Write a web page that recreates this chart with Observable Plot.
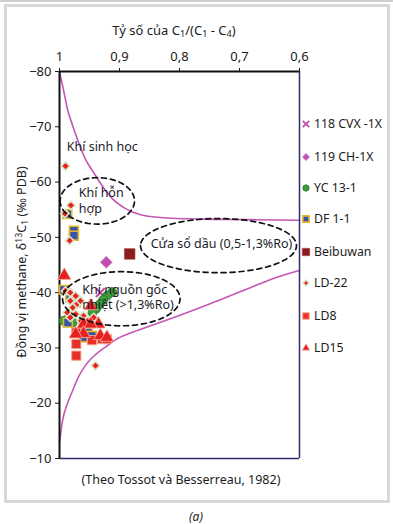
<!DOCTYPE html>
<html>
<head>
<meta charset="utf-8">
<script src="https://cdn.jsdelivr.net/npm/d3@7"></script>
<script src="https://cdn.jsdelivr.net/npm/@observablehq/plot@0.6"></script>
<style>
  html, body { margin: 0; padding: 0; background: #fff; }
  body { width: 393px; height: 524px; position: relative; overflow: hidden; font-family: "Noto Sans", sans-serif; color: #1c1c1c; }
  .abs { position: absolute; white-space: nowrap; }
  #frame { position: absolute; left: 4px; top: 4px; width: 380px; height: 493px; border: 3px solid #d9d9d9; }
  #topline { position: absolute; left: 0; top: 0; width: 393px; height: 2px; background: #cfcfcf; }
  #chart { position: absolute; left: 0; top: 0; }
  .leg { position: absolute; left: 300px; font-size: 12.3px; height: 14px; line-height: 14px; display: flex; align-items: center; }
  .leg svg { margin-right: 2px; }
  sub { font-size: 0.7em; vertical-align: -0.25em; line-height: 0; }
  sup { font-size: 0.7em; vertical-align: 0.45em; line-height: 0; }
</style>
</head>
<body>
<div id="topline"></div>
<div id="frame"></div>
<div id="chart"></div>
<div class="abs" style="left:174px; top:21px; transform:translateX(-50%); font-size:13px;">Tỷ số của C<sub>1</sub>/(C<sub>1</sub> - C<sub>4</sub>)</div>
<div class="abs" style="left:21px; top:262px; transform:translate(-50%,-50%) rotate(-90deg); font-size:12.5px;">Đồng vị methane, δ<sup>13</sup>C<sub>1</sub> (‰ PDB)</div>
<div class="abs" style="left:181px; top:471px; transform:translateX(-50%); font-size:12.5px;">(Theo Tossot và Besserreau, 1982)</div>
<div class="abs" style="left:196px; top:508px; transform:translateX(-50%); font-size:12px; font-style:italic;">(a)</div>
<div id="legend"></div>
<script>
// axis ticks
const xTicks = [1, 0.9, 0.8, 0.7, 0.6];
const yTicks = [-80, -70, -60, -50, -40, -30, -20, -10];

// boundary curves [ratio, delta13C]
const upperCurve = [[1.000,-79.9],[0.993,-76.5],[0.987,-73.3],[0.978,-70.2],[0.968,-67.1],[0.957,-64.2],[0.943,-61.7],[0.928,-59.2],[0.912,-57.0],[0.890,-55.2],[0.865,-54.1],[0.832,-53.6],[0.765,-53.3],[0.682,-53.2],[0.600,-53.1]];
const lowerCurve = [[1.000,-12.9],[0.995,-16.8],[0.987,-19.9],[0.978,-22.3],[0.970,-24.4],[0.957,-26.8],[0.940,-28.8],[0.923,-30.2],[0.903,-31.7],[0.877,-32.9],[0.848,-34.0],[0.807,-35.6],[0.765,-37.3],[0.732,-38.7],[0.682,-40.9],[0.640,-42.7],[0.600,-44.0]];

// series [ratio, delta13C]
const cvx118 = [[0.932,-40.0]];
const ch119 = [[0.922,-45.5]];
const yc131 = [[0.912,-40.1],[0.920,-39.5],[0.927,-38.7],[0.933,-37.9],[0.939,-37.1],[0.945,-36.4],[0.993,-34.9],[0.978,-34.6],[0.986,-35.3]];
const df11 = [[0.987,-54.2],[0.976,-51.2],[0.976,-50.3],[0.993,-40.5],[0.982,-39.1],[0.973,-38.2],[0.986,-34.6],[0.960,-33.4],[0.953,-32.8],[0.960,-31.9],[0.946,-32.2]];
const beibuwan = [[0.883,-47.0]];
const ld22 = [[0.990,-62.9],[0.981,-55.8],[0.991,-54.3],[0.983,-49.4],[0.990,-40.3],[0.982,-40.0],[0.973,-39.4],[0.982,-38.5],[0.971,-37.9],[0.965,-38.5],[0.978,-37.3],[0.987,-36.4],[0.973,-36.1],[0.960,-35.8],[0.982,-35.5],[0.964,-34.9],[0.953,-34.9],[0.943,-35.5],[0.968,-33.1],[0.940,-26.8]];
const ld8 = [[0.972,-32.8],[0.972,-30.7],[0.972,-28.6],[0.929,-31.6],[0.946,-31.4],[0.921,-31.6]];
const ld15 = [[0.992,-43.1],[0.948,-37.6],[0.935,-34.3],[0.960,-34.3],[0.948,-34.3],[0.932,-32.2],[0.921,-31.9],[0.960,-32.6],[0.973,-32.5]];

// zone labels
const zoneLabels = [
  {x: 0.988, y: -66.6, text: "Khí sinh học"},
  {x: 0.968, y: -56.8, text: "Khí hỗn\nhợp"},
  {x: 0.848, y: -49.0, text: "Cửa sổ dầu (0,5-1,3%Ro)"},
  {x: 0.962, y: -39.3, text: "Khí nguồn gốc\nnhiệt (>1,3%Ro)"}
];
// dashed zone outlines: centre and half-axes
const zoneEllipses = [
  {cx: 0.937, cy: -56.6, rx: 0.062, ry: 4.2},
  {cx: 0.735, cy: -48.5, rx: 0.130, ry: 4.9},
  {cx: 0.897, cy: -38.9, rx: 0.098, ry: 4.9}
];

const ellipsePts = zoneEllipses.flatMap((e, i) =>
  d3.range(0, 73).map(k => {
    const t = k / 72 * 2 * Math.PI;
    return {id: i, x: e.cx + e.rx * Math.cos(t), y: e.cy + e.ry * Math.sin(t)};
  }));

const fmt = d => String(d).replace(".", ",");
const X = d => d[0], Y = d => d[1];

const styles = {
  cvx118:   {symbol: "times", r: 4, stroke: "#c04ea9", strokeWidth: 2.2, fill: "none", leg: 0.75},
  ch119:    {symbol: "diamond2", r: 5.5, fill: "#c24fb0", stroke: "#d99ad0", strokeWidth: 0.8, leg: 0.6},
  yc131:    {symbol: "circle", r: 4.5, fill: "#3c9e3a", stroke: "#26722a", strokeWidth: 0.8, leg: 0.7},
  df11:     {symbol: "square", r: 5, fill: "#3a55a6", stroke: "#e3b52a", strokeWidth: 1.6, leg: 0.7},
  beibuwan: {symbol: "square", r: 6, fill: "#8b1c1c", stroke: "#a84848", strokeWidth: 0.6, leg: 0.7},
  ld22:     {symbol: "diamond2", r: 3.8, fill: "#ea1f1f", stroke: "#d6e7c8", strokeWidth: 1.6, leg: 0.7},
  ld8:      {symbol: "square", r: 5.2, fill: "#e8302a", stroke: "#f3a58f", strokeWidth: 1, leg: 0.7},
  ld15:     {symbol: "triangle", r: 5, fill: "#e81f1f", stroke: "#f4b4a4", strokeWidth: 0.8, leg: 0.55}
};
const d3Symbols = {
  times: d3.symbolTimes, diamond2: d3.symbolDiamond2, circle: d3.symbolCircle,
  square: d3.symbolSquare, triangle: d3.symbolTriangle
};

const chart = Plot.plot({
  width: 393,
  height: 524,
  marginLeft: 59,
  marginRight: 94,
  marginTop: 71,
  marginBottom: 66,
  style: {background: "transparent", fontFamily: "Noto Sans", fontSize: "13px", color: "#1c1c1c"},
  x: {domain: [1, 0.6], axis: "top", ticks: xTicks, tickFormat: fmt, tickSize: 4, tickPadding: 7, label: null},
  y: {domain: [-10, -80], ticks: yTicks, tickSize: 4, tickPadding: 4, label: null},
  marks: [
    Plot.line(upperCurve, {x: X, y: Y, stroke: "#c457b5", strokeWidth: 1.6, curve: "monotone-x"}),
    Plot.line(lowerCurve, {x: X, y: Y, stroke: "#c457b5", strokeWidth: 1.6, curve: "monotone-x"}),
    Plot.ruleX([0.6], {stroke: "#2e2c6e", strokeWidth: 1.5}),
    Plot.ruleY([-10], {stroke: "#2e2c6e", strokeWidth: 1.5}),
    Plot.ruleY([-80], {stroke: "#111", strokeWidth: 2}),
    Plot.ruleX([1], {stroke: "#111", strokeWidth: 2}),
    Plot.dot(cvx118, {x: X, y: Y, ...styles.cvx118}),
    Plot.dot(ch119, {x: X, y: Y, ...styles.ch119}),
    Plot.dot(yc131, {x: X, y: Y, ...styles.yc131}),
    Plot.dot(df11, {x: X, y: Y, ...styles.df11}),
    Plot.dot(beibuwan, {x: X, y: Y, ...styles.beibuwan}),
    Plot.dot(ld22, {x: X, y: Y, ...styles.ld22}),
    Plot.dot(ld8, {x: X, y: Y, ...styles.ld8}),
    Plot.dot(ld15, {x: X, y: Y, ...styles.ld15}),
    Plot.line(ellipsePts, {x: "x", y: "y", z: "id", stroke: "#111", strokeWidth: 1.7, strokeDasharray: "5,4", curve: "linear"}),
    Plot.text(zoneLabels, {x: "x", y: "y", text: "text", textAnchor: "start", lineAnchor: "middle", lineHeight: 1.25, fontSize: 12.5, fill: "#1c1c2c"})
  ]
});
document.getElementById("chart").appendChild(chart);

// legend
const legendItems = [
  {name: "118 CVX -1X", key: "cvx118", y: 124},
  {name: "119 CH-1X", key: "ch119", y: 157},
  {name: "YC 13-1", key: "yc131", y: 188},
  {name: "DF 1-1", key: "df11", y: 219},
  {name: "Beibuwan", key: "beibuwan", y: 252},
  {name: "LD-22", key: "ld22", y: 283},
  {name: "LD8", key: "ld8", y: 316},
  {name: "LD15", key: "ld15", y: 348}
];
const legend = document.getElementById("legend");
for (const it of legendItems) {
  const s = styles[it.key];
  const div = document.createElement("div");
  div.className = "leg";
  div.style.top = (it.y - 7) + "px";
  const sym = d3Symbols[s.symbol];
  const pathStr = d3.symbol(sym, Math.PI * (s.r * s.leg) ** 2)();
  const sw = document.createElementNS("http://www.w3.org/2000/svg", "svg");
  sw.setAttribute("width", 12); sw.setAttribute("height", 12);
  const p = document.createElementNS("http://www.w3.org/2000/svg", "path");
  p.setAttribute("d", pathStr);
  p.setAttribute("transform", "translate(6,6)");
  p.setAttribute("fill", s.fill);
  p.setAttribute("stroke", s.stroke);
  p.setAttribute("stroke-width", s.symbol === "times" ? 1.8 : s.strokeWidth);
  sw.appendChild(p);
  div.appendChild(sw);
  div.appendChild(document.createTextNode(it.name));
  legend.appendChild(div);
}
</script>
</body>
</html>
